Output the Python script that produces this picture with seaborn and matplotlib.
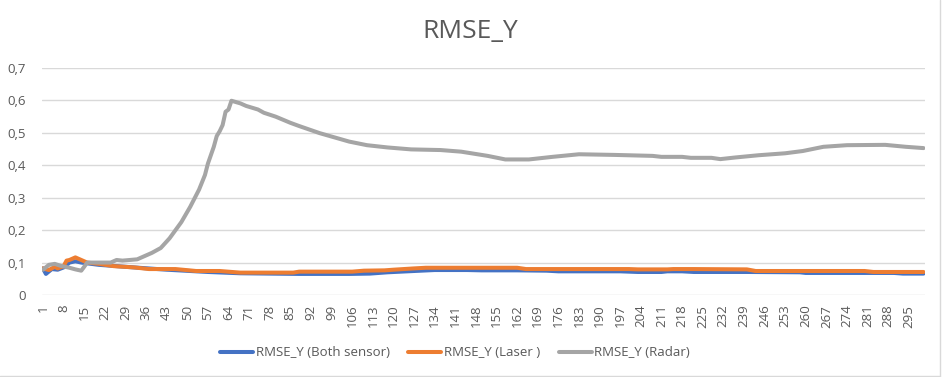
import matplotlib
matplotlib.use("Agg")
import matplotlib.pyplot as plt
import seaborn as sns
import pandas as pd
from matplotlib.lines import Line2D

# ---------------- data (sample index, value) ----------------
series_names = ["RMSE_Y (Both sensor)", "RMSE_Y (Laser )", "RMSE_Y (Radar)"]
series_colors = ["#4472C4", "#ED7D31", "#A5A5A5"]

both_idx = [1, 2, 4, 6, 8, 10, 12, 14, 20, 32, 43, 57, 68, 88, 105, 112, 118,
            127, 134, 145, 150, 162, 172, 176, 197, 203, 211, 213, 218, 222,
            240, 258, 260, 290, 293, 300]
both_val = [0.082, 0.065, 0.080, 0.078, 0.085, 0.100, 0.104, 0.100, 0.093,
            0.085, 0.078, 0.071, 0.067, 0.065, 0.065, 0.066, 0.070, 0.074,
            0.077, 0.077, 0.076, 0.076, 0.075, 0.073, 0.073, 0.071, 0.071,
            0.073, 0.073, 0.071, 0.071, 0.070, 0.068, 0.068, 0.066, 0.066]

laser_idx = [1, 3, 5, 6, 8, 9, 10, 12, 14, 16, 20, 25, 32, 37, 46, 53, 61, 68,
             86, 88, 106, 110, 117, 120, 127, 131, 162, 165, 197, 200, 203,
             213, 215, 222, 240, 243, 280, 283, 300]
laser_val = [0.082, 0.077, 0.087, 0.082, 0.089, 0.106, 0.108, 0.116, 0.108,
             0.100, 0.096, 0.089, 0.085, 0.080, 0.080, 0.074, 0.074, 0.069,
             0.069, 0.072, 0.072, 0.075, 0.076, 0.078, 0.082, 0.084, 0.084,
             0.080, 0.080, 0.080, 0.079, 0.079, 0.080, 0.080, 0.079, 0.074,
             0.074, 0.071, 0.071]

radar_idx = [1, 3, 5, 7, 10, 12, 14, 15, 16, 20, 24, 26, 28, 33, 35, 38, 41,
             44, 48, 51, 54, 56, 57, 59, 60, 61, 62, 63, 64, 65, 68, 70, 74,
             76, 80, 85, 88, 95, 100, 105, 111, 118, 126, 136, 143, 152, 158,
             166, 174, 183, 195, 208, 211, 218, 221, 228, 231, 236, 244, 253,
             259, 266, 274, 287, 294, 300]
radar_val = [0.078, 0.093, 0.096, 0.090, 0.084, 0.079, 0.075, 0.087, 0.100,
             0.100, 0.100, 0.108, 0.106, 0.110, 0.118, 0.130, 0.145, 0.175,
             0.225, 0.272, 0.325, 0.370, 0.405, 0.457, 0.490, 0.505, 0.524,
             0.565, 0.572, 0.599, 0.591, 0.583, 0.572, 0.562, 0.550, 0.531,
             0.521, 0.499, 0.486, 0.473, 0.462, 0.455, 0.449, 0.447, 0.442,
             0.429, 0.418, 0.418, 0.426, 0.434, 0.432, 0.429, 0.426, 0.426,
             0.423, 0.423, 0.419, 0.424, 0.431, 0.437, 0.444, 0.457, 0.462,
             0.463, 0.457, 0.453]

x_ticks = list(range(1, 300, 7))
y_ticks = [0, 0.1, 0.2, 0.3, 0.4, 0.5, 0.6, 0.7]
y_tick_labels = ["0", "0,1", "0,2", "0,3", "0,4", "0,5", "0,6", "0,7"]
title = "RMSE_Y"

# ---------------- figure ----------------
sns.set_style("white")
plt.rcParams["font.family"] = ["Open Sans", "DejaVu Sans"]
txt_color = "#595959"
grid_color = "#D9D9D9"

frames = []
for name, xs, ys in zip(series_names, [both_idx, laser_idx, radar_idx],
                        [both_val, laser_val, radar_val]):
    frames.append(pd.DataFrame({"series": name, "idx": xs, "val": ys}))
df = pd.concat(frames, ignore_index=True)

fig = plt.figure(figsize=(9.44, 3.77), dpi=100)
ax = fig.add_axes([41.5 / 944, 1 - 295 / 377, (925 - 41.5) / 944, (295 - 68) / 377])

sns.lineplot(data=df, x="idx", y="val", hue="series", hue_order=series_names,
             palette=series_colors, estimator=None, linewidth=2.9, ax=ax,
             legend=False)

ax.set_xlim(0.5, 300.5)
ax.set_ylim(0, 0.7)
ax.set_xticks(x_ticks)
ax.set_xticklabels([str(t) for t in x_ticks], rotation="vertical")
ax.set_yticks(y_ticks)
ax.set_yticklabels(y_tick_labels)
ax.tick_params(axis="both", length=0, labelsize=9.5, colors=txt_color)
ax.tick_params(axis="y", pad=11)
ax.tick_params(axis="x", pad=7, labelrotation=90)
ax.set_xlabel("")
ax.set_ylabel("")
for s in ax.spines.values():
    s.set_visible(False)
ax.yaxis.grid(True, color=grid_color, linewidth=1)
ax.xaxis.grid(False)
ax.set_axisbelow(True)

fig.text(470 / 944, 1 - 32 / 377, title, ha="center", va="center",
         fontsize=19, color=txt_color)

handles = [Line2D([], [], color=c, linewidth=2.9) for c in series_colors]
leg = fig.legend(handles, series_names, loc="center", ncol=3,
                 bbox_to_anchor=(455 / 944, 1 - 353 / 377), frameon=False,
                 fontsize=9.5, handlelength=2.5, handletextpad=0.2,
                 columnspacing=1.4)
for t in leg.get_texts():
    t.set_color(txt_color)

# chart border (right and bottom visible)
fig.add_artist(Line2D([939.5 / 944, 939.5 / 944], [1 - 375.5 / 377, 1],
                      transform=fig.transFigure, color=grid_color, linewidth=1))
fig.add_artist(Line2D([0, 939.5 / 944], [1 - 375.5 / 377, 1 - 375.5 / 377],
                      transform=fig.transFigure, color=grid_color, linewidth=1))

fig.savefig("out.png", dpi=100)
